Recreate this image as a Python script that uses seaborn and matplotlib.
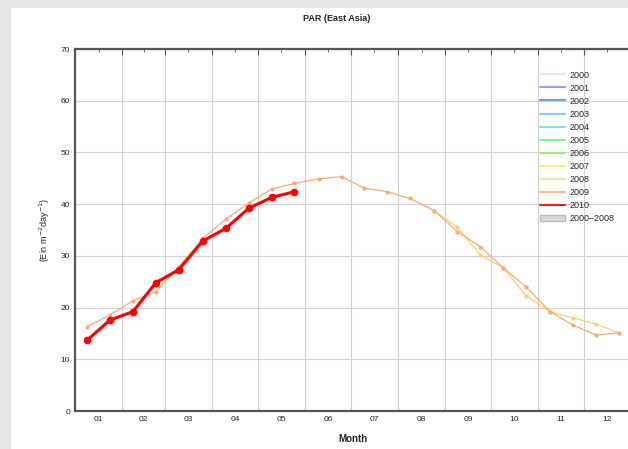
import numpy as np
import pandas as pd
import matplotlib
matplotlib.use('Agg')
import matplotlib.pyplot as plt
import seaborn as sns
from matplotlib.lines import Line2D
from matplotlib.patches import Patch, Rectangle

# centre day of each half-month composite
composite_day = [8, 23, 38, 53, 68, 84, 99, 114, 129, 144, 160, 175,
                 190, 205, 220, 236, 251, 266, 281, 296, 312, 327, 342, 357]

par_2010 = [13.7, 17.6, 19.2, 24.8, 27.3, 32.9, 35.3, 39.2, 41.3, 42.4]
par_2009 = [16.3, 18.6, 21.3, 23.1, 27.8, 33.4, 37.1, 40.2, 42.9, 44.0, 44.9, 45.3,
            43.1, 42.4, 41.1, 38.7, 34.7, 31.8, 27.7, 24.0, 19.2, 16.6, 14.7, 15.1]
# 2008 only shows where it departs from 2009 (late summer to December)
par_2008 = [38.7, 35.5, 30.2, 27.7, 22.3, 19.2, 18.0, 16.8, 15.1]

month_starts = [0, 31, 59, 90, 120, 151, 181, 212, 243, 273, 304, 334, 365]
month_labels = ['01', '02', '03', '04', '05', '06', '07', '08', '09', '10', '11', '12']

legend_years = ['2000', '2001', '2002', '2003', '2004', '2005', '2006',
                '2007', '2008', '2009', '2010']
year_colors = ['#f7e1f7', '#b294f2', '#7a97e6', '#86cdf7', '#78e8e8', '#86f096',
               '#ace27a', '#f7f08a', '#f7e0a6', '#fbba98', '#ff1a1a']

df = pd.concat([
    pd.DataFrame({'year': '2008', 'day': composite_day[15:], 'par': par_2008}),
    pd.DataFrame({'year': '2009', 'day': composite_day, 'par': par_2009}),
    pd.DataFrame({'year': '2010', 'day': composite_day[:len(par_2010)], 'par': par_2010}),
])

sns.set_style('white')
plt.rcParams['font.family'] = ['Liberation Sans', 'DejaVu Sans']

fig = plt.figure(figsize=(6.28, 4.49), dpi=100, facecolor='#e6e6e6')
fig.patches.append(Rectangle((11 / 628, 0), 1, 1 - 8 / 449, transform=fig.transFigure,
                             facecolor='white', edgecolor='none', zorder=-10))
# right edge of the plot is cut off in the original screenshot
ax = fig.add_axes([75 / 628, 38 / 449, 556 / 628, 362 / 449])
ax.set_facecolor('white')

sns.lineplot(data=df[df.year == '2008'], x='day', y='par', color='#f5d278', lw=0.9,
             marker='o', markersize=3, markeredgewidth=0, ax=ax, legend=False)
sns.lineplot(data=df[df.year == '2009'], x='day', y='par', color='#f8a977', lw=0.9,
             marker='o', markersize=3, markeredgewidth=0, ax=ax, legend=False)
sns.lineplot(data=df[df.year == '2010'], x='day', y='par', color='#ff0000', lw=2.2,
             marker='o', markersize=5.5, markeredgewidth=0, ax=ax, legend=False)

ax.set_xlim(0, 365)
ax.set_ylim(0, 70)
ax.set_xticks(month_starts)
ax.set_xticklabels([])
mids = [(a + b) / 2 for a, b in zip(month_starts[:-1], month_starts[1:])]
ax.set_xticks(mids, minor=True)
ax.set_xticklabels(month_labels, minor=True, fontsize=6)
ax.set_yticks(range(0, 71, 10))
ax.set_yticks(range(5, 70, 10), minor=True)
ax.tick_params(axis='y', labelsize=6)
ax.tick_params(which='both', direction='in', top=True, right=False, color='#555555')
ax.tick_params(which='major', length=4)
ax.tick_params(which='minor', length=2.5)
ax.grid(True, which='major', color='#d2d2d2', lw=0.8)
for s in ax.spines.values():
    s.set_color('#555555')
    s.set_linewidth(1.6)

ax.set_title('PAR (East Asia)', fontsize=6.5, fontweight='bold', pad=20, x=0.47)
ax.set_xlabel('Month', fontsize=7, fontweight='bold', labelpad=8)
ax.set_ylabel('(Ein m$^{-2}$day$^{-1}$)', fontsize=6.5, labelpad=6)

handles = [Line2D([0], [0], color=c, lw=1.5) for c in year_colors]
handles.append(Patch(facecolor='#d9d9d9', edgecolor='#bbbbbb'))
labels = legend_years + ['2000\u20132008']
ax.legend(handles, labels, loc='upper left', bbox_to_anchor=(535 / 628, 1 - 66 / 449),
          bbox_transform=fig.transFigure, frameon=False, fontsize=6.5,
          handlelength=2.8, handletextpad=0.5, labelspacing=0.45, borderpad=0)

fig.savefig('out.png', dpi=100, facecolor=fig.get_facecolor())
